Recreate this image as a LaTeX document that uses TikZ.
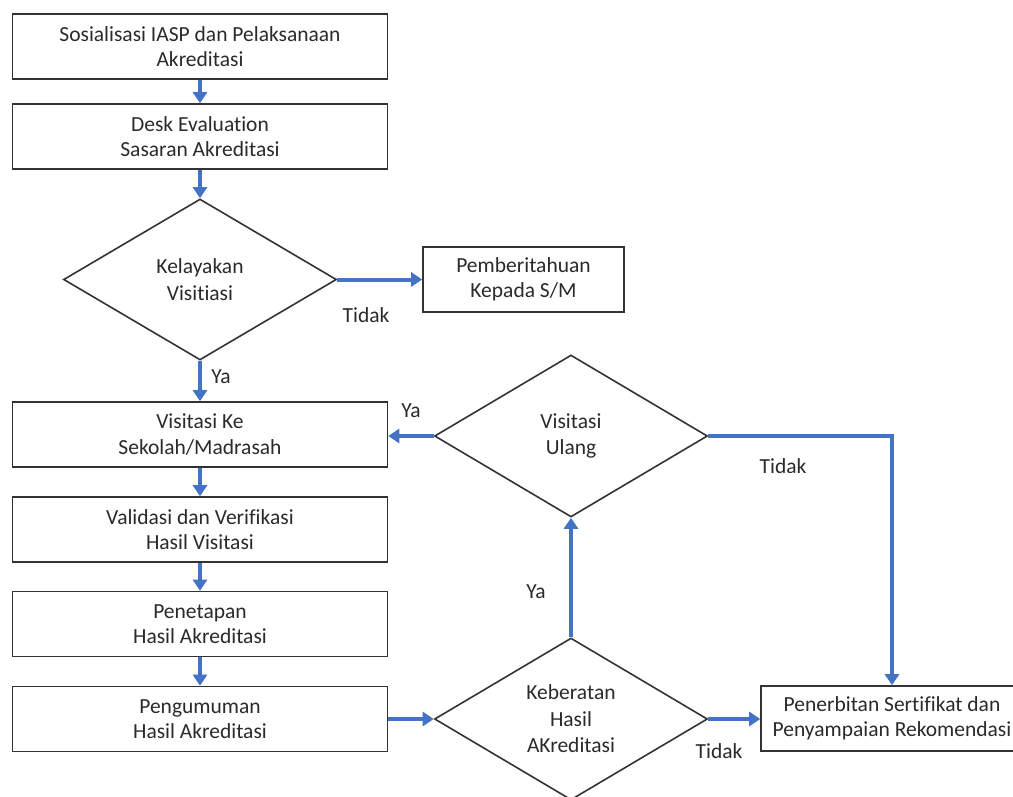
\documentclass[tikz,border=0pt]{standalone}
\usepackage{fontspec}
\setmainfont{Carlito}[RawFeature=-liga]
\usetikzlibrary{shapes.geometric,arrows.meta}
\definecolor{flowblue}{HTML}{4472C4}
\definecolor{boxline}{HTML}{333333}
\definecolor{txt}{HTML}{2A2A2A}
\begin{document}
\begin{tikzpicture}[x=1pt,y=-1pt,
  every node/.style={text=txt},
  procbox/.style={draw=boxline,line width=1.6pt,rectangle,minimum width=375pt,minimum height=65pt,inner sep=0pt,align=center,font=\fontsize{21.5}{25.5}\selectfont},
  decide/.style={draw=boxline,line width=1.6pt,diamond,minimum width=273pt,minimum height=162pt,inner sep=0pt,align=center,font=\fontsize{21.5}{26.5}\selectfont},
  flow/.style={draw=flowblue,line width=4pt,-{Triangle[length=11pt,width=14pt]}},
  lbl/.style={font=\fontsize{21.5}{25}\selectfont,inner sep=0pt}]
\useasboundingbox (0,0) rectangle (1013,796);
\clip (0,0) rectangle (1013,796);
\node[procbox] (b1) at (200,46.5) {Sosialisasi IASP dan Pelaksanaan\\Akreditasi};
\node[procbox] (b2) at (200,136.5) {Desk Evaluation\\Sasaran Akreditasi};
\node[decide,minimum height=161pt] (d1) at (200,279.5) {Kelayakan\\Visitiasi};
\node[procbox,minimum width=201pt,minimum height=65pt] (pm) at (523.5,279.5) {Pemberitahuan\\Kepada S/M};
\node[procbox] (b3) at (200,434.5) {Visitasi Ke\\Sekolah/Madrasah};
\node[procbox] (b4) at (200,529.5) {Validasi dan Verifikasi\\Hasil Visitasi};
\node[procbox] (b5) at (200,624) {Penetapan\\Hasil Akreditasi};
\node[procbox] (b6) at (200,719) {Pengumuman\\Hasil Akreditasi};
\node[decide] (d2) at (571,436) {Visitasi\\Ulang};
\node[decide] (d3) at (571,719) {Keberatan\\Hasil\\AKreditasi};
\node[procbox,minimum width=262pt,minimum height=65pt] (b7) at (892,718.5) {Penerbitan Sertifikat dan\\Penyampaian Rekomendasi};
\draw[flow] (b1.south) -- (b2.north);
\draw[flow] (b2.south) -- (d1.north);
\draw[flow] (d1.east) -- (pm.west);
\draw[flow] (d1.south) -- (b3.north);
\draw[flow] (b3.south) -- (b4.north);
\draw[flow] (b4.south) -- (b5.north);
\draw[flow] (b5.south) -- (b6.north);
\draw[flow] (b6.east |- d3.west) -- (d3.west);
\draw[flow] (d3.north) -- (d2.south);
\draw[flow] (d2.west) -- (b3.east |- d2.west);
\draw[flow] (d2.east) -| (b7.north);
\draw[flow] (d3.east) -- (b7.west |- d3.east);
\node[lbl] (t1) at (366,315) {Tidak};
\node[lbl] (y1) at (221,377) {Ya};
\node[lbl] (y2) at (411,411) {Ya};
\node[lbl] (t2) at (783,466) {Tidak};
\node[lbl] (y3) at (536,592) {Ya};
\node[lbl] (t3) at (719,751) {Tidak};
\end{tikzpicture}
\end{document}
